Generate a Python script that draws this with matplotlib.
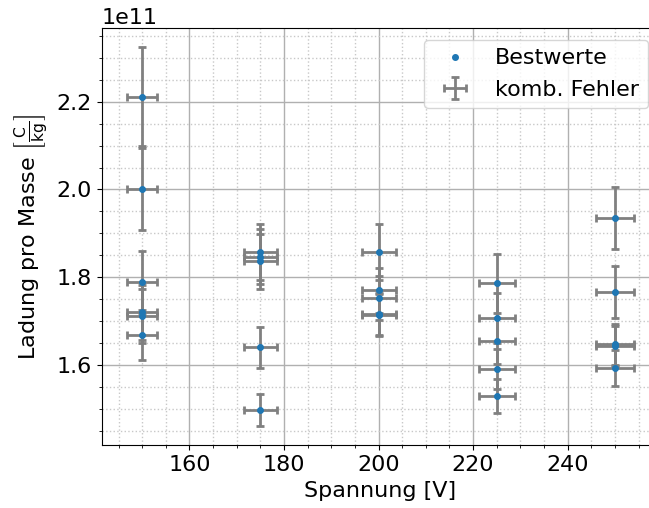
import numpy as np
import matplotlib
matplotlib.use('Agg')
import matplotlib.pyplot as plt
from matplotlib.ticker import MultipleLocator

# Beschleunigungsspannung [V]
spannung = [150, 150, 150, 150, 150, 150,
            175, 175, 175, 175, 175,
            200, 200, 200, 200, 200,
            225, 225, 225, 225, 225,
            250, 250, 250, 250, 250]

# spezifische Ladung e/m [1e11 C/kg]
em = [2.211, 2.001, 1.788, 1.720, 1.711, 1.669,
      1.858, 1.847, 1.836, 1.640, 1.497,
      1.858, 1.770, 1.753, 1.717, 1.714,
      1.786, 1.707, 1.654, 1.591, 1.529,
      1.935, 1.766, 1.647, 1.643, 1.592]

em_fehler = [0.113, 0.093, 0.072, 0.062, 0.061, 0.057,
             0.064, 0.063, 0.062, 0.046, 0.037,
             0.064, 0.052, 0.050, 0.048, 0.048,
             0.067, 0.058, 0.052, 0.045, 0.038,
             0.071, 0.059, 0.046, 0.046, 0.041]

u_fehler = [3.2]*6 + [3.45]*5 + [3.6]*5 + [3.85]*5 + [4.0]*5

U = np.array(spannung)
y = np.array(em) * 1e11
dy = np.array(em_fehler) * 1e11
dU = np.array(u_fehler)

plt.rcParams['mathtext.fontset'] = 'dejavusans'

fig = plt.figure(figsize=(6.49, 5.08), dpi=100)
ax = fig.add_axes([0.1567, 0.1234, 0.859, 0.8207])

ax.errorbar(U, y, xerr=dU, yerr=dy, fmt='none', ecolor='gray',
            elinewidth=2, capsize=3, capthick=2, label='komb. Fehler')
ax.plot(U, y, '.', color='tab:blue', markersize=8, label='Bestwerte')

ax.xaxis.set_major_locator(MultipleLocator(20))
ax.xaxis.set_minor_locator(MultipleLocator(5))
ax.yaxis.set_major_locator(MultipleLocator(0.2e11))
ax.yaxis.set_minor_locator(MultipleLocator(0.05e11))

ax.grid(which='major', color='#b0b0b0', linewidth=1)
ax.grid(which='minor', color='#c8c8c8', linestyle=':', linewidth=1)
ax.set_axisbelow(True)

ax.tick_params(labelsize=16)
ax.yaxis.get_offset_text().set_fontsize(16)

ax.set_xlabel('Spannung [V]', fontsize=16)
ax.set_ylabel(r'Ladung pro Masse $\left[\frac{\mathrm{C}}{\mathrm{kg}}\right]$', fontsize=16)

ax.legend(fontsize=16, loc='upper right')

fig.savefig('out.png', dpi=100)
